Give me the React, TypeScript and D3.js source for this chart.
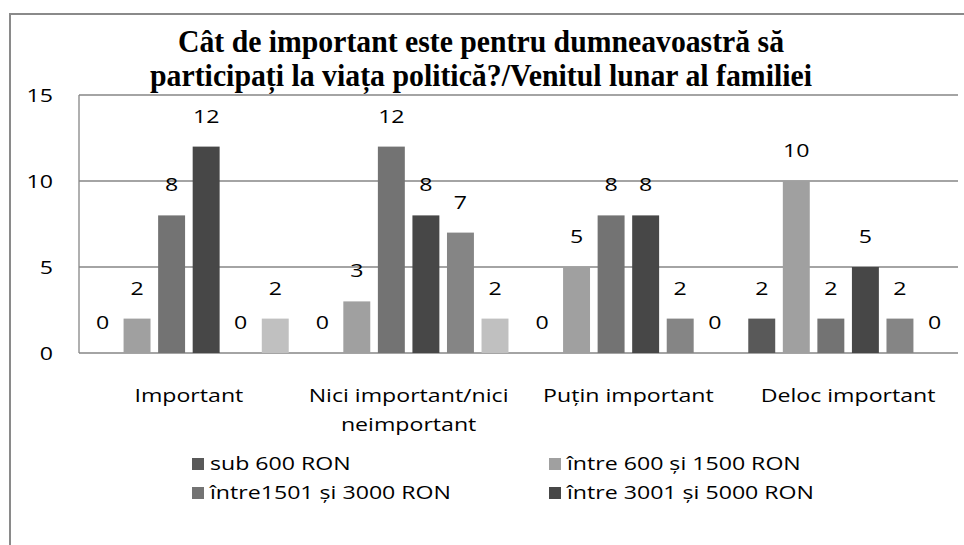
import React from "react";
import * as d3 from "d3";

const categories = ["Important", "Nici important/nici neimportant", "Puțin important", "Deloc important"];
const categoryLines = [["Important"], ["Nici important/nici", "neimportant"], ["Puțin important"], ["Deloc important"]];
const seriesNames = [
  "sub 600 RON",
  "între 600 și 1500 RON",
  "între1501 și 3000 RON",
  "între 3001 și 5000 RON",
  "între 5001 și 10000 RON",
  "peste 10000 RON",
];
const seriesColors = ["#595959", "#a0a0a0", "#737373", "#474747", "#858585", "#c0c0c0"];
const s1 = [0, 0, 0, 2];
const s2 = [2, 3, 5, 10];
const s3 = [8, 12, 8, 2];
const s4 = [12, 8, 8, 5];
const s5 = [0, 7, 2, 2];
const s6 = [2, 2, 0, 0];
const seriesValues = [s1, s2, s3, s4, s5, s6];
const yTicks = [0, 5, 10, 15];
const titleLines = [
  "Cât de important este pentru dumneavoastră să",
  "participați la viața politică?/Venitul lunar al familiei",
];
const legendShown = 4;

const W = 964;
const H = 545;
const plot = { left: 79, right: 958, top: 95, bottom: 353 };
const sans = "'Open Sans', Lato, sans-serif";
const FS = 18.5;
const SX = 1.25;

function T(props: { x: number; y: number; anchor?: string; children: React.ReactNode; dy?: string }) {
  return (
    <text
      transform={`translate(${props.x},${props.y}) scale(${SX},1)`}
      textAnchor={props.anchor || "start"}
      dy={props.dy}
      fontFamily={sans}
      fontSize={FS}
      fill="#000"
    >
      {props.children}
    </text>
  );
}

export default function App() {
  const x0 = d3.scaleBand<string>().domain(categories).range([plot.left, plot.right]).padding(0);
  const x1 = d3
    .scaleBand<number>()
    .domain(seriesNames.map((_, i) => i))
    .range([0, x0.bandwidth()])
    .paddingInner(0.22)
    .paddingOuter(0.29);
  const y = d3.scaleLinear().domain([0, 15]).range([plot.bottom, plot.top]);

  return (
    <svg width={W} height={H} style={{ position: "absolute", left: 0, top: 0, background: "#fff" }}>
      <rect x={0} y={0} width={W} height={H} fill="#fff" />
      {/* outer frame */}
      <rect x={10} y={14} width={W + 20} height={H + 20} fill="none" stroke="#8a8a8a" strokeWidth={2} />
      {/* title */}
      {titleLines.map((t, i) => (
        <text
          key={i}
          x={481}
          y={52 + i * 34}
          textAnchor="middle"
          fontFamily="'Liberation Serif', 'DejaVu Serif', serif"
          fontWeight="bold"
          fontSize={31}
          textLength={i === 0 ? 606 : 662}
          lengthAdjust="spacingAndGlyphs"
          fill="#000"
        >
          {t}
        </text>
      ))}
      {/* gridlines */}
      {yTicks.map((t) => (
        <line key={t} x1={plot.left} x2={plot.right} y1={y(t)} y2={y(t)} stroke="#868686" strokeWidth={1.3} />
      ))}
      <line x1={plot.left} x2={plot.left} y1={plot.top} y2={plot.bottom} stroke="#868686" strokeWidth={1.3} />
      {/* y labels */}
      {yTicks.map((t) => (
        <T key={t} x={53} y={y(t)} anchor="end" dy="0.36em">
          {t}
        </T>
      ))}
      {/* bars */}
      {categories.map((c, ci) => (
        <g key={c} transform={`translate(${x0(c)},0)`}>
          {seriesValues.map((vals, si) => {
            const v = vals[ci];
            const bx = x1(si)!;
            const by = y(v);
            return (
              <g key={si}>
                {v > 0 && (
                  <rect x={bx} y={by} width={x1.bandwidth()} height={plot.bottom - by} fill={seriesColors[si]} />
                )}
                <T x={bx + x1.bandwidth() / 2} y={by - 24} anchor="middle">
                  {v}
                </T>
              </g>
            );
          })}
        </g>
      ))}
      {/* category labels */}
      {categories.map((c, ci) =>
        categoryLines[ci].map((ln, li) => (
          <T key={c + li} x={x0(c)! + x0.bandwidth() / 2} y={402 + li * 29} anchor="middle">
            {ln}
          </T>
        ))
      )}
      {/* legend */}
      {seriesNames.slice(0, legendShown).map((n, i) => {
        const col = i % 2;
        const row = Math.floor(i / 2);
        const lx = col === 0 ? 192 : 549;
        const ly = 470 + row * 29;
        return (
          <g key={n}>
            <rect x={lx} y={ly - 12} width={12} height={12} fill={seriesColors[i]} />
            <T x={lx + 18} y={ly}>
              {n}
            </T>
          </g>
        );
      })}
    </svg>
  );
}
